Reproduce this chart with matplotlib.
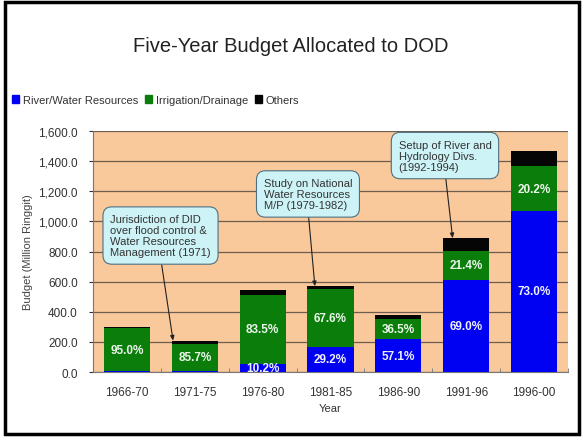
import matplotlib
matplotlib.use("Agg")
import matplotlib.pyplot as plt
from matplotlib.patches import Rectangle, Patch
from matplotlib.ticker import FuncFormatter, MultipleLocator, FixedLocator
import numpy as np

plt.rcParams['font.family'] = ['Liberation Sans', 'DejaVu Sans']

periods = ["1966-70", "1971-75", "1976-80", "1981-85", "1986-90", "1991-96", "1996-00"]
river = [4, 8, 56, 166, 216, 613, 1069]
irrigation = [285, 178, 457, 385, 138, 190, 296]
others = [11, 22, 34, 18, 25, 85, 99]
river_pct = [None, None, "10.2%", "29.2%", "57.1%", "69.0%", "73.0%"]
irr_pct = ["95.0%", "85.7%", "83.5%", "67.6%", "36.5%", "21.4%", "20.2%"]

callouts = [
    ("Jurisdiction of DID\nover flood control &\nWater Resources\nManagement (1971)", 1, 0.495, 906, -0.32),
    ("Study on National\nWater Resources\nM/P (1979-1982)", 3, 2.668, 1182, -0.23),
    ("Setup of River and\nHydrology Divs.\n(1992-1994)", 5, 4.687, 1437, -0.20),
]

W, H = 582, 439
fig = plt.figure(figsize=(W / 100, H / 100), dpi=100)
fig.patch.set_facecolor('white')

# outer frame
fig.patches.append(Rectangle((5 / W, 4 / H), 574 / W, 432 / H, transform=fig.transFigure,
                             fill=False, edgecolor='black', linewidth=2.5, zorder=10))

ax = fig.add_axes([93 / W, 1 - 373 / H, (568 - 93) / W, (373 - 132) / H])
ax.set_facecolor('#F9C89B')

blue = '#0000F2'
green = '#0B7D0B'
black = '#050505'
x = np.arange(len(periods))
bw = 0.68
r = np.array(river)
g = np.array(irrigation)
o = np.array(others)
ax.bar(x, r, bw, color=blue, zorder=3)
ax.bar(x, g, bw, bottom=r, color=green, zorder=3)
ax.bar(x, o, bw, bottom=r + g, color=black, zorder=3)

for i in range(len(periods)):
    if river_pct[i]:
        ax.text(x[i], r[i] / 2, river_pct[i], ha='center', va='center', color='#EEF0FF',
                fontsize=8.5, fontweight='bold', zorder=5)
    ax.text(x[i], r[i] + g[i] / 2, irr_pct[i], ha='center', va='center', color='#EAF6EA',
            fontsize=8.5, fontweight='bold', zorder=5)

ax.set_xlim(-0.5, len(periods) - 0.5)
ax.set_ylim(0, 1600)
ax.yaxis.set_major_locator(MultipleLocator(200))
ax.yaxis.set_major_formatter(FuncFormatter(lambda v, p: f"{v:,.1f}"))
ax.grid(axis='y', color='#6E5E50', linewidth=0.9, zorder=1)
ax.set_xticks(x)
ax.set_xticklabels(periods)
ax.xaxis.set_minor_locator(FixedLocator(np.arange(-0.5, len(periods), 1)))
ax.tick_params(axis='x', which='major', length=0, labelsize=8.5, colors='#333333', pad=10)
ax.tick_params(axis='x', which='minor', length=3, direction='in', color='#777777')
ax.tick_params(axis='y', length=3, labelsize=8.5, colors='#333333', pad=8)
for s in ['top', 'right']:
    ax.spines[s].set_visible(False)
ax.spines['left'].set_color('#777777')
ax.spines['bottom'].set_color('#777777')
ax.set_xlabel("Year", fontsize=8, color='#333333', labelpad=4)
ax.set_ylabel("Budget (Million Ringgit)", fontsize=8, color='#444444', labelpad=4)

for text, bi, tx, ty, off in callouts:
    ax.annotate(text, xy=(x[bi] + off, r[bi] + g[bi] + o[bi]), xytext=(tx, ty),
                ha='center', va='center', multialignment='left', fontsize=8, color='#333333',
                linespacing=1.12,
                bbox=dict(boxstyle='round,pad=0.65,rounding_size=0.8', fc='#CDF3F7', ec='#4F6F80', lw=0.8),
                arrowprops=dict(arrowstyle='-|>,head_length=0.35,head_width=0.15', color='#222222',
                                lw=0.8, relpos=(0.5, 0), shrinkA=0, shrinkB=0),
                zorder=6)

fig.text(0.5, 1 - 47 / H, "Five-Year Budget Allocated to DOD", ha='center', va='center',
         fontsize=14.5, color='#222222')

handles = [Patch(color=blue), Patch(color=green), Patch(color=black)]
fig.legend(handles, ["River/Water Resources", "Irrigation/Drainage", "Others"],
           loc='center left', bbox_to_anchor=(6 / W, 1 - 101 / H), ncol=3, frameon=False,
           fontsize=8, handlelength=0.7, handleheight=0.7, handletextpad=0.3, columnspacing=0.6,
           borderpad=0, labelcolor='#333333')

fig.savefig("out.png", dpi=100, facecolor='white')
